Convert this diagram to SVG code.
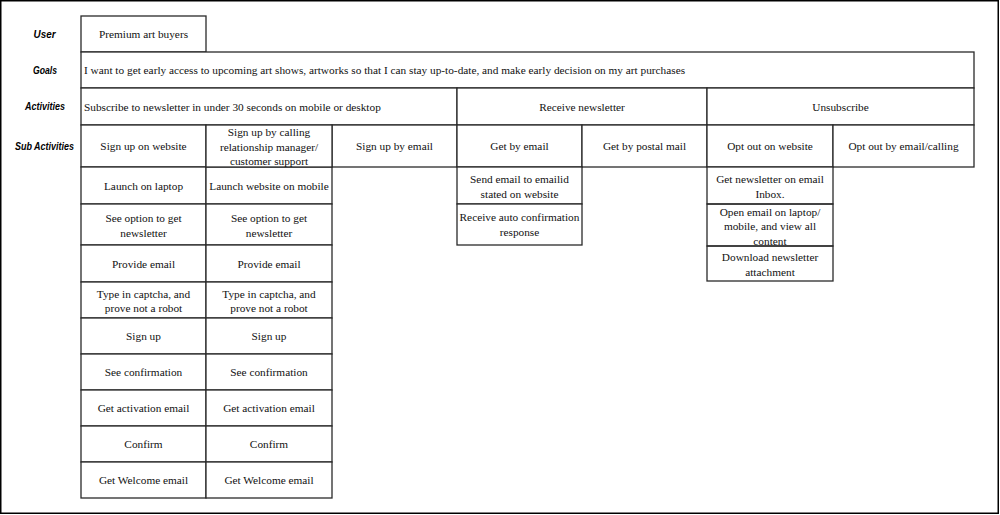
<svg xmlns="http://www.w3.org/2000/svg" width="1000" height="515" viewBox="0 0 1000 515">
<style>
.c{fill:#fff;stroke:#2a2a2a;stroke-width:1.3}
.t{font-family:"Liberation Serif","Times New Roman",serif;font-size:11.3px;fill:#111;text-anchor:middle}
.l{font-family:"Liberation Sans",Arial,sans-serif;font-size:10px;font-weight:bold;font-style:italic;fill:#000;text-anchor:middle}
</style>
<rect x="0.75" y="0.75" width="997.5" height="512.5" fill="#fff" stroke="#000" stroke-width="1.5"/>
<g id="labels">
<text class="l" x="44.5" y="38" textLength="22" lengthAdjust="spacingAndGlyphs">User</text>
<text class="l" x="45" y="74" textLength="24" lengthAdjust="spacingAndGlyphs">Goals</text>
<text class="l" x="45" y="110" textLength="40" lengthAdjust="spacingAndGlyphs">Activities</text>
<text class="l" x="44.5" y="150" textLength="59" lengthAdjust="spacingAndGlyphs">Sub Activities</text>
</g>
<g id="user"><rect class="c" x="81" y="16" width="125" height="36"/><text class="t" x="143.5" y="38">Premium art buyers</text></g>
<g id="goals"><rect class="c" x="81" y="52" width="893" height="36"/><text class="t" x="84" y="74" style="text-anchor:start">I want to get early access to upcoming art shows, artworks so that I can stay up-to-date, and make early decision on my art purchases</text></g>
<g id="act-subscribe"><rect class="c" x="81" y="88" width="376" height="37"/><text class="t" x="84" y="110.5" style="text-anchor:start">Subscribe to newsletter in under 30 seconds on mobile or desktop</text></g>
<g id="act-receive"><rect class="c" x="457" y="88" width="250" height="37"/><text class="t" x="582" y="110.5">Receive newsletter</text></g>
<g id="act-unsub"><rect class="c" x="707" y="88" width="267" height="37"/><text class="t" x="840.5" y="110.5">Unsubscribe</text></g>
<g id="sub-website"><rect class="c" x="81" y="125" width="125" height="42"/><text class="t" x="143.5" y="150">Sign up on website</text></g>
<g id="sub-email"><rect class="c" x="332" y="125" width="125" height="42"/><text class="t" x="394.5" y="150">Sign up by email</text></g>
<g id="sub-getemail"><rect class="c" x="457" y="125" width="125" height="42"/><text class="t" x="519.5" y="150">Get by email</text></g>
<g id="sub-postal"><rect class="c" x="582" y="125" width="125" height="42"/><text class="t" x="644.5" y="150">Get by postal mail</text></g>
<g id="sub-optweb"><rect class="c" x="707" y="125" width="126" height="42"/><text class="t" x="770" y="150">Opt out on website</text></g>
<g id="sub-optemail"><rect class="c" x="833" y="125" width="141" height="42"/><text class="t" x="903.5" y="150">Opt out by email/calling</text></g>

<g id="w1"><rect class="c" x="81" y="167" width="125" height="37"/><text class="t" x="143.5" y="189.5">Launch on laptop</text></g>
<g id="w2"><rect class="c" x="81" y="204" width="125" height="41"/><text class="t" x="143.5" y="222">See option to get</text><text class="t" x="143.5" y="236.5">newsletter</text></g>
<g id="w3"><rect class="c" x="81" y="245" width="125" height="37"/><text class="t" x="143.5" y="267.5">Provide email</text></g>
<g id="w4"><rect class="c" x="81" y="282" width="125" height="36"/><text class="t" x="143.5" y="297.5">Type in captcha, and</text><text class="t" x="143.5" y="312">prove not a robot</text></g>
<g id="w5"><rect class="c" x="81" y="318" width="125" height="36"/><text class="t" x="143.5" y="340">Sign up</text></g>
<g id="w6"><rect class="c" x="81" y="354" width="125" height="36"/><text class="t" x="143.5" y="376">See confirmation</text></g>
<g id="w7"><rect class="c" x="81" y="390" width="125" height="36"/><text class="t" x="143.5" y="412">Get activation email</text></g>
<g id="w8"><rect class="c" x="81" y="426" width="125" height="36"/><text class="t" x="143.5" y="448">Confirm</text></g>
<g id="w9"><rect class="c" x="81" y="462" width="125" height="36"/><text class="t" x="143.5" y="484">Get Welcome email</text></g>

<g id="m1"><rect class="c" x="206" y="167" width="126" height="37"/><text class="t" x="269" y="189.5">Launch website on mobile</text></g>
<g id="m2"><rect class="c" x="206" y="204" width="126" height="41"/><text class="t" x="269" y="222">See option to get</text><text class="t" x="269" y="236.5">newsletter</text></g>
<g id="m3"><rect class="c" x="206" y="245" width="126" height="37"/><text class="t" x="269" y="267.5">Provide email</text></g>
<g id="m4"><rect class="c" x="206" y="282" width="126" height="36"/><text class="t" x="269" y="297.5">Type in captcha, and</text><text class="t" x="269" y="312">prove not a robot</text></g>
<g id="m5"><rect class="c" x="206" y="318" width="126" height="36"/><text class="t" x="269" y="340">Sign up</text></g>
<g id="m6"><rect class="c" x="206" y="354" width="126" height="36"/><text class="t" x="269" y="376">See confirmation</text></g>
<g id="m7"><rect class="c" x="206" y="390" width="126" height="36"/><text class="t" x="269" y="412">Get activation email</text></g>
<g id="m8"><rect class="c" x="206" y="426" width="126" height="36"/><text class="t" x="269" y="448">Confirm</text></g>
<g id="m9"><rect class="c" x="206" y="462" width="126" height="36"/><text class="t" x="269" y="484">Get Welcome email</text></g>

<g id="sub-calling"><rect class="c" x="206" y="125" width="126" height="42"/><text class="t" x="269" y="136">Sign up by calling</text><text class="t" x="269" y="150.5">relationship manager/</text><text class="t" x="269" y="165">customer support</text></g>

<g id="e1"><rect class="c" x="457" y="167" width="125" height="37"/><text class="t" x="519.5" y="182.5">Send email to emailid</text><text class="t" x="519.5" y="198">stated on website</text></g>
<g id="e2"><rect class="c" x="457" y="204" width="125" height="41"/><text class="t" x="519.5" y="221">Receive auto confirmation</text><text class="t" x="519.5" y="236">response</text></g>

<g id="o1"><rect class="c" x="707" y="167" width="126" height="37"/><text class="t" x="770" y="183">Get newsletter on email</text><text class="t" x="770" y="198">Inbox.</text></g>
<g id="o3"><rect class="c" x="707" y="246" width="126" height="35"/><text class="t" x="770" y="261">Download newsletter</text><text class="t" x="770" y="275.5">attachment</text></g>
<g id="o2"><rect class="c" x="707" y="204" width="126" height="42" style="fill:none"/><text class="t" x="770" y="215.5">Open email on laptop/</text><text class="t" x="770" y="230">mobile, and view all</text><text class="t" x="770" y="244.5">content</text></g>
</svg>
